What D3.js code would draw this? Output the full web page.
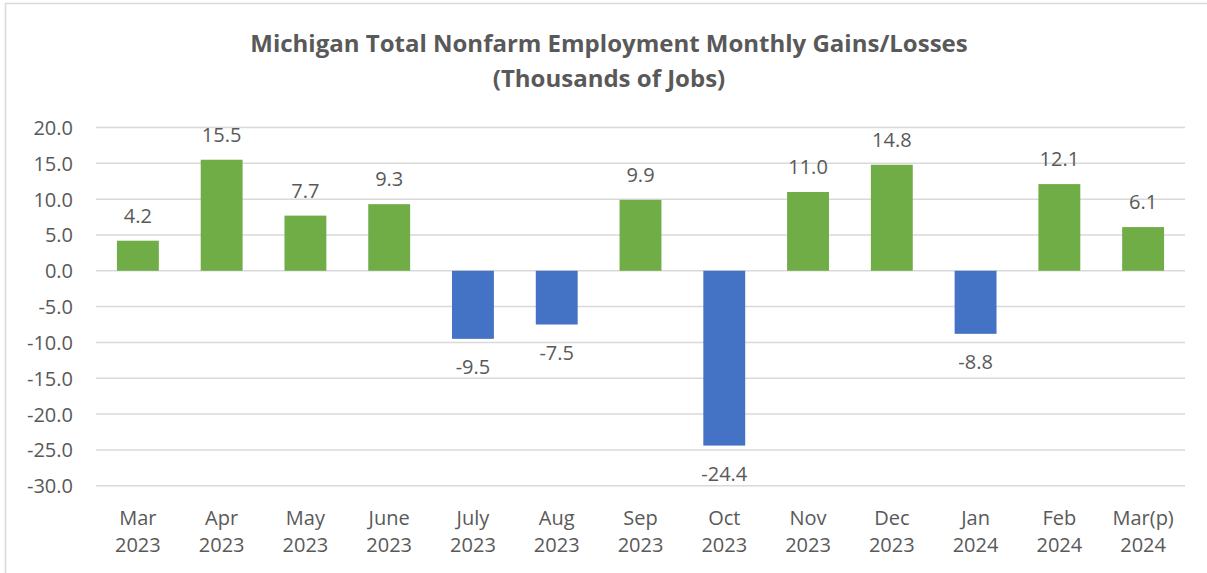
<!DOCTYPE html>
<html>
<head>
<meta charset="utf-8">
<script src="https://cdn.jsdelivr.net/npm/d3@7"></script>
<style>
  html, body { margin: 0; padding: 0; background: #fff; }
  svg { display: block; }
  text { font-family: "Open Sans", "Noto Sans", sans-serif; fill: #595959; }
</style>
</head>
<body>
<svg id="chart" width="1207" height="573"></svg>
<script>
const months = ["Mar", "Apr", "May", "June", "July", "Aug", "Sep", "Oct", "Nov", "Dec", "Jan", "Feb", "Mar(p)"];
const years = ["2023", "2023", "2023", "2023", "2023", "2023", "2023", "2023", "2023", "2023", "2024", "2024", "2024"];
const values = [4.2, 15.5, 7.7, 9.3, -9.5, -7.5, 9.9, -24.4, 11.0, 14.8, -8.8, 12.1, 6.1];
const yTicks = [20, 15, 10, 5, 0, -5, -10, -15, -20, -25, -30];
const titleLines = ["Michigan Total Nonfarm Employment Monthly Gains/Losses", "(Thousands of Jobs)"];

(function () {
const svg = d3.select("#chart");
const W = 1207, H = 573;
const pLeft = 96, pRight = 1185, pTop = 127.5, pBottom = 485.7;
const fmt = d3.formatLocale({decimal: ".", thousands: ",", grouping: [3], currency: ["$", ""], minus: "-"}).format(".1f");

svg.append("rect").attr("x", 5.5).attr("y", 3.5).attr("width", W + 10).attr("height", H + 10)
  .attr("fill", "#fff").attr("stroke", "#d9d9d9").attr("stroke-width", 1.5);

const keys = months.map((m, i) => i);
const x = d3.scaleBand().domain(keys).range([pLeft, pRight]).paddingInner(0.5).paddingOuter(0.25);
const y = d3.scaleLinear().domain([-30, 20]).range([pBottom, pTop]);

// gridlines
svg.append("g").selectAll("line").data(yTicks).join("line")
  .attr("x1", pLeft).attr("x2", pRight)
  .attr("y1", d => y(d)).attr("y2", d => y(d))
  .attr("stroke", "#d9d9d9").attr("stroke-width", 1.5);

// y axis labels
const yAxis = d3.axisLeft(y).tickValues(yTicks).tickFormat(fmt).tickSize(0).tickPadding(0);
const yg = svg.append("g").attr("transform", "translate(73,0)").call(yAxis);
yg.select(".domain").remove();
yg.selectAll("text").attr("font-size", 20).attr("fill", "#595959")
  .style("font-family", '"Open Sans", sans-serif').attr("dy", "0.35em");

// bars
svg.append("g").selectAll("rect").data(values).join("rect")
  .attr("x", (d, i) => x(i))
  .attr("width", x.bandwidth())
  .attr("y", d => d >= 0 ? y(d) : y(0))
  .attr("height", d => Math.abs(y(d) - y(0)))
  .attr("fill", d => d >= 0 ? "#70ad47" : "#4472c4");

// data labels
svg.append("g").selectAll("text").data(values).join("text")
  .attr("x", (d, i) => x(i) + x.bandwidth() / 2)
  .attr("y", d => d >= 0 ? y(d) - 18 : y(d) + 35)
  .attr("text-anchor", "middle").attr("font-size", 20)
  .text(d => fmt(d));

// x axis labels
const xl = svg.append("g").selectAll("text").data(keys).join("text")
  .attr("text-anchor", "middle").attr("font-size", 20);
xl.append("tspan").attr("x", i => x(i) + x.bandwidth() / 2).attr("y", 525).text(i => months[i]);
xl.append("tspan").attr("x", i => x(i) + x.bandwidth() / 2).attr("y", 552).text(i => years[i]);

// title
svg.append("g").selectAll("text").data(titleLines).join("text")
  .attr("x", 609).attr("y", (d, i) => 52 + i * 35)
  .attr("text-anchor", "middle").attr("font-size", 24).attr("font-weight", "bold")
  .text(d => d);
})();
</script>
</body>
</html>
